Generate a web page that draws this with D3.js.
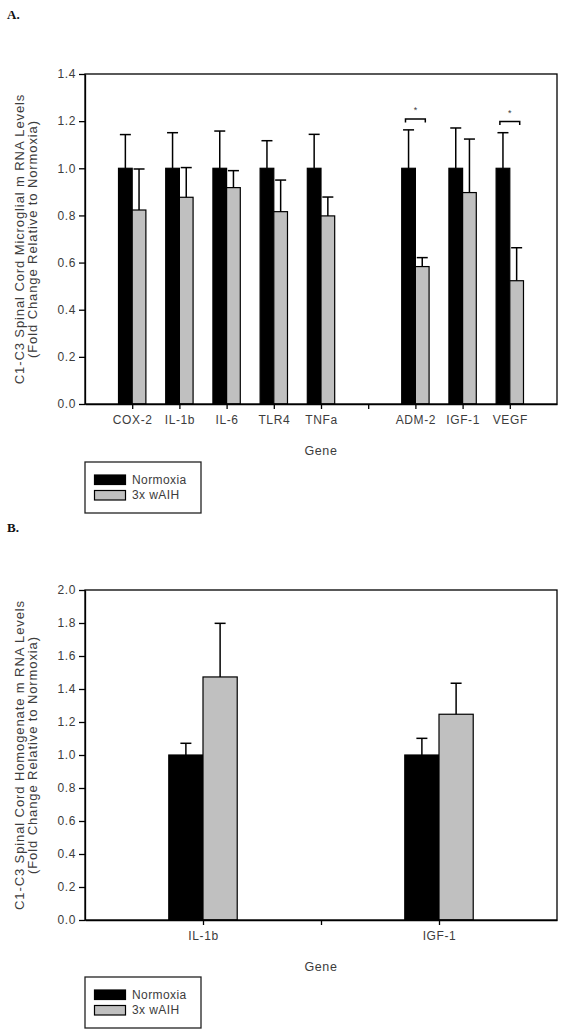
<!DOCTYPE html>
<html>
<head>
<meta charset="utf-8">
<script src="https://cdn.jsdelivr.net/npm/d3@7"></script>
<style>
  html, body { margin: 0; padding: 0; background: #fff; }
  svg { display: block; }
  text { font-family: "Liberation Sans", Arial, sans-serif; fill: #3c3c3c; }
</style>
</head>
<body>
<svg id="chart" width="562" height="1033"></svg>
<script>
// ---------- Panel A data ----------
const categoriesA = ["COX-2", "IL-1b", "IL-6", "TLR4", "TNFa", " ", "ADM-2", "IGF-1", "VEGF"];
const normoxiaA    = [1.0, 1.0, 1.0, 1.0, 1.0, null, 1.0, 1.0, 1.0];
const normoxiaErrA = [0.143, 0.151, 0.158, 0.117, 0.144, null, 0.163, 0.171, 0.151];
const wAIHA        = [0.823, 0.877, 0.918, 0.816, 0.798, null, 0.583, 0.897, 0.523];
const wAIHErrA     = [0.174, 0.126, 0.072, 0.134, 0.080, null, 0.038, 0.227, 0.140];
const sigGenesA    = ["ADM-2", "VEGF"];
const sigLevelsA   = [1.209, 1.198];
const yTicksA      = [0.0, 0.2, 0.4, 0.6, 0.8, 1.0, 1.2, 1.4];

// ---------- Panel B data ----------
const categoriesB = ["IL-1b", " ", "IGF-1"];
const normoxiaB    = [1.0, null, 1.0];
const normoxiaErrB = [0.071, null, 0.101];
const wAIHB        = [1.473, null, 1.247];
const wAIHErrB     = [0.325, null, 0.188];
const yTicksB      = [0.0, 0.2, 0.4, 0.6, 0.8, 1.0, 1.2, 1.4, 1.6, 1.8, 2.0];

const seriesNames  = ["Normoxia", "3x wAIH"];
const seriesColors = ["#000000", "#c0c0c0"];

const svg = d3.select("#chart");

function drawPanel(cfg) {
  const g = svg.append("g");
  const L = 85, R = 557, T = cfg.top, B = cfg.bottom;
  const x = d3.scalePoint().domain(cfg.categories).range([L, R]).padding(1);
  const y = d3.scaleLinear().domain([0, cfg.yMax]).range([B, T]);
  const step = x.step();
  const bw = step * 0.29;

  // panel letter
  g.append("text").attr("x", 7).attr("y", cfg.letterY)
    .style("font-family", "'Liberation Serif', 'DejaVu Serif', serif")
    .style("font-weight", "bold").style("font-size", "13px").style("fill", "#111")
    .text(cfg.letter);

  // bars
  const rows = cfg.categories.map((c, i) => ({
    c, vals: [cfg.s1[i], cfg.s2[i]], errs: [cfg.e1[i], cfg.e2[i]]
  })).filter(d => d.vals[0] != null);

  rows.forEach(d => {
    d.vals.forEach((v, k) => {
      const x0 = x(d.c) + (k === 0 ? -bw : 0);
      g.append("rect")
        .attr("x", x0).attr("y", y(v))
        .attr("width", bw).attr("height", y(0) - y(v))
        .attr("fill", seriesColors[k])
        .attr("stroke", "#000").attr("stroke-width", 1.2);
      const cx = x0 + bw / 2;
      const top = y(v + d.errs[k]);
      g.append("line").attr("x1", cx).attr("x2", cx)
        .attr("y1", y(v)).attr("y2", top)
        .attr("stroke", "#000").attr("stroke-width", 1.5);
      g.append("line").attr("x1", cx - 5.5).attr("x2", cx + 5.5)
        .attr("y1", top).attr("y2", top)
        .attr("stroke", "#000").attr("stroke-width", 1.5);
    });
  });

  // significance brackets
  (cfg.sigGenes || []).forEach((gname, i) => {
    const cx = x(gname);
    const yy = y(cfg.sigLevels[i]);
    const hw = step * 0.21;
    g.append("path")
      .attr("d", `M${cx - hw},${yy + 3.5}V${yy}H${cx + hw}V${yy + 3.5}`)
      .attr("fill", "none").attr("stroke", "#000").attr("stroke-width", 1.5);
    g.append("text").attr("x", cx).attr("y", yy - 6)
      .attr("text-anchor", "middle").style("font-size", "9px")
      .text("*");
  });

  // axes
  const ya = g.append("g").attr("transform", `translate(${L},0)`)
    .call(d3.axisLeft(y).tickValues(cfg.yTicks).tickFormat(d3.format(".1f"))
      .tickSize(6).tickSizeOuter(0).tickPadding(3));
  const xa = g.append("g").attr("transform", `translate(0,${B})`)
    .call(d3.axisBottom(x).tickSize(5).tickSizeOuter(0).tickPadding(6));
  [ya, xa].forEach(a => {
    a.selectAll("path,line").attr("stroke", "#000").attr("stroke-width", 1.3);
    a.selectAll("text").style("font-size", "12px").style("fill", "#3c3c3c")
      .style("font-family", "'Liberation Sans', Arial, sans-serif")
      .style("letter-spacing", "0.6px");
  });
  // frame
  g.append("rect").attr("x", L).attr("y", T).attr("width", R - L).attr("height", B - T)
    .attr("fill", "none").attr("stroke", "#000").attr("stroke-width", 1.3);

  // x title
  g.append("text").attr("x", (L + R) / 2).attr("y", B + 51)
    .attr("text-anchor", "middle").style("font-size", "12.5px")
    .style("letter-spacing", "0.6px").text("Gene");

  // y title
  const cy = (T + B) / 2;
  const yt = g.append("text").attr("transform", `translate(24,${cy}) rotate(-90)`)
    .attr("text-anchor", "middle").style("font-size", "13px")
    .style("letter-spacing", "0.9px");
  yt.append("tspan").attr("x", 0).attr("y", 0).text(cfg.yTitle1);
  yt.append("tspan").attr("x", 0).attr("y", 13).text(cfg.yTitle2);

  // legend
  const lg = g.append("g").attr("transform", `translate(85,${cfg.legendY})`);
  lg.append("rect").attr("x", 0).attr("y", 0).attr("width", 116).attr("height", 51)
    .attr("fill", "#fff").attr("stroke", "#222").attr("stroke-width", 1.3);
  seriesNames.forEach((n, k) => {
    lg.append("rect").attr("x", 9.5).attr("y", 13 + k * 15.5).attr("width", 31).attr("height", 9.5)
      .attr("fill", seriesColors[k]).attr("stroke", "#000").attr("stroke-width", 1.2);
    lg.append("text").attr("x", 47).attr("y", 21.5 + k * 15.5)
      .style("font-size", "12px").style("letter-spacing", "0.4px").text(n);
  });
}

drawPanel({
  letter: "A.", letterY: 19, top: 74, bottom: 404, yMax: 1.4,
  categories: categoriesA, s1: normoxiaA, e1: normoxiaErrA, s2: wAIHA, e2: wAIHErrA,
  sigGenes: sigGenesA, sigLevels: sigLevelsA, yTicks: yTicksA,
  yTitle1: "C1-C3 Spinal Cord Microglial m RNA Levels",
  yTitle2: "(Fold Change Relative to Normoxia)",
  legendY: 462
});

drawPanel({
  letter: "B.", letterY: 532, top: 590, bottom: 920, yMax: 2.0,
  categories: categoriesB, s1: normoxiaB, e1: normoxiaErrB, s2: wAIHB, e2: wAIHErrB,
  sigGenes: [], sigLevels: [], yTicks: yTicksB,
  yTitle1: "C1-C3 Spinal Cord Homogenate m RNA Levels",
  yTitle2: "(Fold Change Relative to Normoxia)",
  legendY: 977
});
</script>
</body>
</html>
